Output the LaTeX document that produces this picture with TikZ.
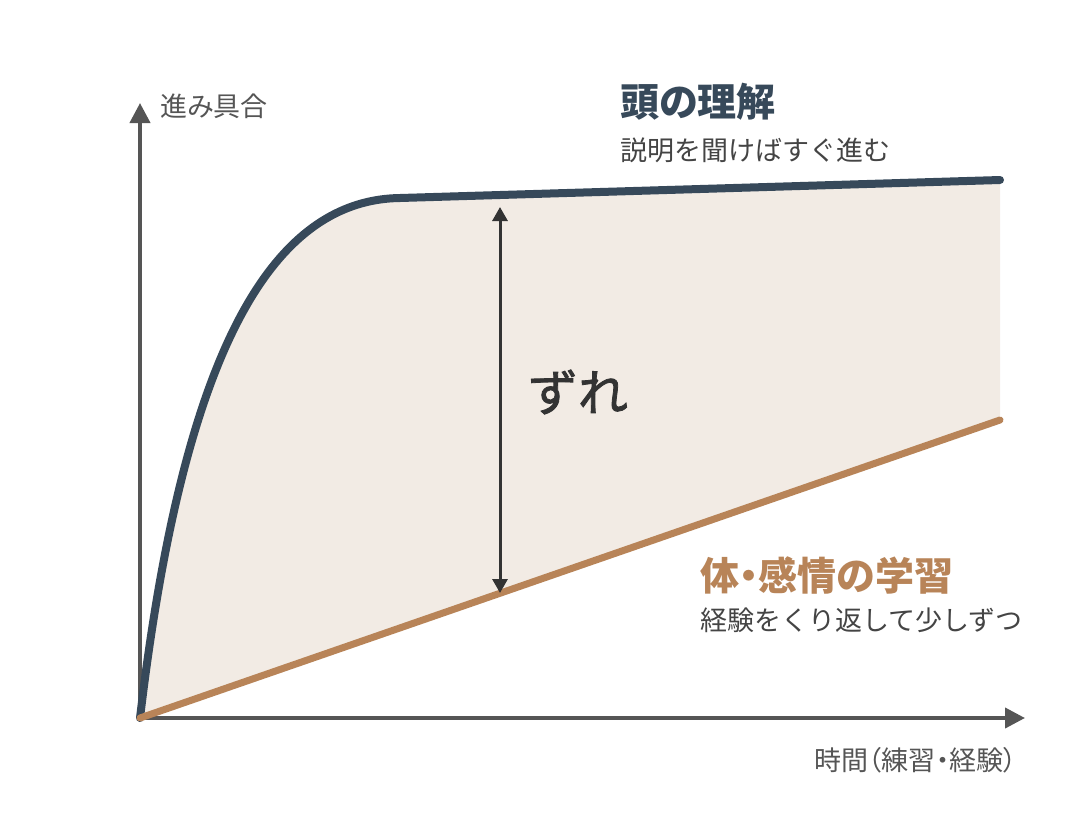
\documentclass[tikz,border=0pt]{standalone}
\usepackage{fontspec}
\setmainfont{Noto Sans CJK JP}
\usetikzlibrary{arrows.meta,positioning}

\definecolor{headblue}{HTML}{37495A}
\definecolor{bodybrown}{HTML}{B88458}
\definecolor{gapfill}{HTML}{F2EBE4}
\definecolor{axisgray}{HTML}{555555}
\definecolor{textgray}{HTML}{444444}
\definecolor{gapdark}{HTML}{333333}

\tikzset{
  every axis/.style={
    draw=axisgray,
    line width=4pt,
    -{Triangle[length=20pt,width=20pt]}
  },
  axis label/.style={
    text=axisgray,
    font=\fontsize{27}{31}\selectfont\addfontfeature{RawFeature=+palt},
    inner sep=0pt
  },
  curve title/.style={
    font=\fontsize{39}{45}\selectfont\bfseries\addfontfeature{RawFeature=+palt},
    anchor=west,
    inner sep=0pt
  },
  curve note/.style={
    text=textgray,
    font=\fontsize{27}{31}\selectfont,
    anchor=west,
    inner sep=0pt
  },
}

\begin{document}
\begin{tikzpicture}[x=1pt, y=-1pt]
  \useasboundingbox (0,0) rectangle (1080,820);

  \coordinate (origin) at (140,718);
  \coordinate (y-tip) at (140,103);
  \coordinate (x-tip) at (1025,718);
  \coordinate (knee) at (400,198);
  \coordinate (head-end) at (1000,180);
  \coordinate (body-end) at (1000,420);
  \coordinate (gap-top) at (500,207);
  \coordinate (gap-bottom) at (500,593);

  % area between the two curves
  \fill [gapfill] (origin) .. controls (180,380) and (260,200) .. (knee)
    -- (head-end) -- (body-end) -- cycle;

  \draw [every axis] (origin) -- (y-tip);
  \draw [every axis] (origin) -- (x-tip);

  \draw [headblue, line width=8pt, line cap=round]
    (origin) .. controls (180,380) and (260,200) .. (knee) -- (head-end);
  \draw [bodybrown, line width=7pt, line cap=round] (origin) -- (body-end);

  \draw [gapdark, line width=3pt, {Triangle[length=14pt,width=15pt]}-{Triangle[length=14pt,width=15pt]}]
    (gap-top) -- (gap-bottom);

  \node [text=gapdark, font=\fontsize{50}{56}\selectfont\addfontfeature{FakeBold=1.6}, inner sep=0pt] (gap) at (578,392) {ずれ};

  \node [axis label, anchor=west] (y-label) at (160,106) {進み具合};
  \node [axis label, anchor=east] (x-label) at (1017,760) {時間（練習・経験）};

  \node [curve title, text=headblue] (head) at (620,102) {頭の理解};
  \node [curve note] (head-note) at (620,150) {説明を聞けばすぐ進む};

  \node [curve title, text=bodybrown] (body) at (700,575) {体・感情の学習};
  \node [curve note] (body-note) at (700,620) {経験をくり返して少しずつ};

\end{tikzpicture}
\end{document}
